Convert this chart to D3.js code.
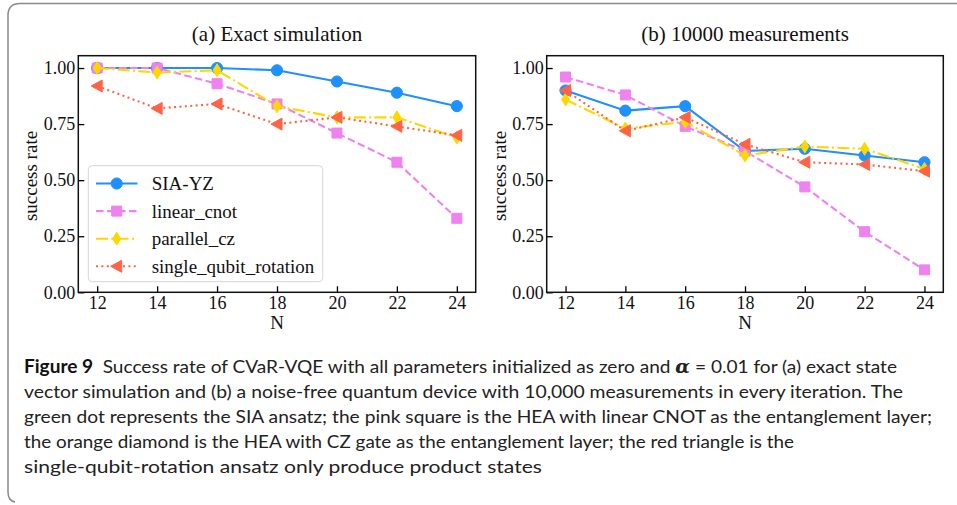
<!DOCTYPE html>
<html><head><meta charset="utf-8">
<script src="https://cdn.jsdelivr.net/npm/d3@7"></script>
<style>body{margin:0;background:#fff} svg{display:block}</style>
</head><body><svg id="c" width="957" height="505"></svg>
<script>
// ---------- data ----------
const nQubits = [12, 14, 16, 18, 20, 22, 24];
const yTickValues = [0, 0.25, 0.5, 0.75, 1.0];
const seriesNames = ["SIA-YZ", "linear_cnot", "parallel_cz", "single_qubit_rotation"];
const panelTitles = ["(a) Exact simulation", "(b) 10000 measurements"];

const exactSIA    = [1.00, 1.00, 1.00, 0.99, 0.94, 0.89, 0.83];
const exactLinear = [1.00, 1.00, 0.93, 0.84, 0.71, 0.58, 0.33];
const exactCZ     = [1.00, 0.98, 0.99, 0.83, 0.78, 0.78, 0.69];
const exactSingle = [0.92, 0.82, 0.84, 0.75, 0.78, 0.74, 0.70];

const measSIA    = [0.90, 0.81, 0.83, 0.63, 0.64, 0.61, 0.58];
const measLinear = [0.96, 0.88, 0.74, 0.63, 0.47, 0.27, 0.10];
const measCZ     = [0.86, 0.73, 0.76, 0.61, 0.65, 0.64, 0.55];
const measSingle = [0.90, 0.72, 0.78, 0.66, 0.58, 0.57, 0.54];

const captionLines = [
  "Success rate of CVaR-VQE with all parameters initialized as zero and ",
  "vector simulation and (b) a noise-free quantum device with 10,000 measurements in every iteration. The",
  "green dot represents the SIA ansatz; the pink square is the HEA with linear CNOT as the entanglement layer;",
  "the orange diamond is the HEA with CZ gate as the entanglement layer; the red triangle is the",
  "single-qubit-rotation ansatz only produce product states"
];

// ---------- styles ----------
const styles = [
  {color: "#1E90FF", dash: null, marker: "circle"},
  {color: "#EE82EE", dash: "7.5,3.5", marker: "square"},
  {color: "#FFD700", dash: "12,3.3,2,3.3", marker: "thin_diamond"},
  {color: "#FF6347", dash: "2,3.4", marker: "tri_left"}
];

const svg = d3.select("#c");
const serif = "'Liberation Serif', 'DejaVu Serif', serif";

// frame
svg.append("path")
  .attr("d", "M957,3.5 H20 Q8,3.5 8,15.5 V492 Q8,501 15,502")
  .attr("fill", "none").attr("stroke", "#8a8a8a").attr("stroke-width", 1.5);

function markerPath(type) {
  switch (type) {
    case "circle": return d3.symbol(d3.symbolCircle, 98)();
    case "square": return "M-5,-5H5V5H-5Z";
    case "thin_diamond": return "M0,-6.5L4,0L0,6.5L-4,0Z";
    case "tri_left": return "M-6,0L5,-6L5,6Z";
  }
}

const panels = [
  {left: 78.3, right: 475.7, data: [exactSIA, exactLinear, exactCZ, exactSingle], legend: true, title: panelTitles[0]},
  {left: 546.7, right: 943.3, data: [measSIA, measLinear, measCZ, measSingle], legend: false, title: panelTitles[1]}
];
const plotTop = 55.7, plotBottom = 292.3;

panels.forEach(p => {
  const g = svg.append("g");
  const x = d3.scaleLinear().domain([11.37, 24.63]).range([p.left, p.right]);
  const y = d3.scaleLinear().domain([0, 1.055]).range([plotBottom, plotTop]);

  const xa = g.append("g").attr("transform", `translate(0,${plotBottom})`)
    .call(d3.axisBottom(x).tickValues(nQubits).tickFormat(d3.format("d")).tickSizeInner(-6).tickSizeOuter(0).tickPadding(3.8));
  const ya = g.append("g").attr("transform", `translate(${p.left},0)`)
    .call(d3.axisLeft(y).tickValues(yTickValues).tickFormat(d3.format(".2f")).tickSizeInner(-6).tickSizeOuter(0).tickPadding(3));
  [xa, ya].forEach(a => {
    a.select(".domain").remove();
    a.selectAll("line").attr("stroke", "#000").attr("stroke-width", 1.3);
    a.selectAll("text").attr("font-family", serif).attr("font-size", 18).attr("fill", "#111");
  });

  g.append("rect").attr("x", p.left).attr("y", plotTop).attr("width", p.right - p.left).attr("height", plotBottom - plotTop)
    .attr("fill", "none").attr("stroke", "#111").attr("stroke-width", 1.5);

  g.append("text").attr("x", (p.left + p.right) / 2).attr("y", 41).attr("text-anchor", "middle")
    .attr("font-family", serif).attr("font-size", 21).attr("fill", "#111").text(p.title);
  g.append("text").attr("x", (p.left + p.right) / 2).attr("y", 329).attr("text-anchor", "middle")
    .attr("font-family", serif).attr("font-size", 19).attr("fill", "#111").text("N");
  g.append("text").attr("transform", `translate(${p.left - 41},${(plotTop + plotBottom) / 2 + 2}) rotate(-90)`)
    .attr("text-anchor", "middle").attr("font-family", serif).attr("font-size", 19).attr("fill", "#111").text("success rate");

  p.data.forEach((vals, i) => {
    const s = styles[i];
    const pts = nQubits.map((n, k) => [x(n), y(vals[k])]);
    g.append("path").attr("d", d3.line()(pts)).attr("fill", "none")
      .attr("stroke", s.color).attr("stroke-width", 2.1)
      .attr("stroke-dasharray", s.dash);
    g.selectAll(null).data(pts).join("path")
      .attr("transform", d => `translate(${d[0]},${d[1]})`)
      .attr("d", markerPath(s.marker)).attr("fill", s.color).attr("stroke", s.color).attr("stroke-width", 1);
  });

  if (p.legend) {
    const lg = g.append("g");
    lg.append("rect").attr("x", 88.3).attr("y", 165.7).attr("width", 234.4).attr("height", 116)
      .attr("rx", 4).attr("fill", "#fff").attr("fill-opacity", 0.8).attr("stroke", "#d6d6d6").attr("stroke-width", 1);
    seriesNames.forEach((name, i) => {
      const s = styles[i];
      const yy = 183.5 + i * 27.6;
      lg.append("line").attr("x1", 96).attr("x2", 137.5).attr("y1", yy).attr("y2", yy)
        .attr("stroke", s.color).attr("stroke-width", 2.1).attr("stroke-dasharray", s.dash);
      lg.append("path").attr("transform", `translate(116.7,${yy})`).attr("d", markerPath(s.marker))
        .attr("fill", s.color).attr("stroke", s.color).attr("stroke-width", 1);
      lg.append("text").attr("x", 151.7).attr("y", yy + 6.5).attr("font-family", serif).attr("font-size", 19)
        .attr("fill", "#111").text(name);
    });
  }
});

// caption
const cap = svg.append("g").attr("font-family", "Lato, 'Open Sans', sans-serif").attr("font-size", 18).attr("fill", "#222");
const capBase = [373, 398, 423, 448, 473];
const capEnds = [897, 903, 932, 794, 542];
captionLines.forEach((line, i) => {
  const t = cap.append("text").attr("x", 24).attr("y", capBase[i])
    .attr("textLength", capEnds[i] - 24).attr("lengthAdjust", "spacingAndGlyphs");
  if (i === 0) {
    t.append("tspan").attr("font-weight", "bold").attr("fill", "#111").text("Figure 9");
    t.append("tspan").text("\u2002" + line);
    t.append("tspan").attr("font-family", "'DejaVu Serif', serif").attr("font-style", "italic").attr("font-weight", "bold").text("\u03b1");
    t.append("tspan").text(" = 0.01 for (a) exact state");
  } else {
    t.text(line);
  }
});
</script></body></html>
